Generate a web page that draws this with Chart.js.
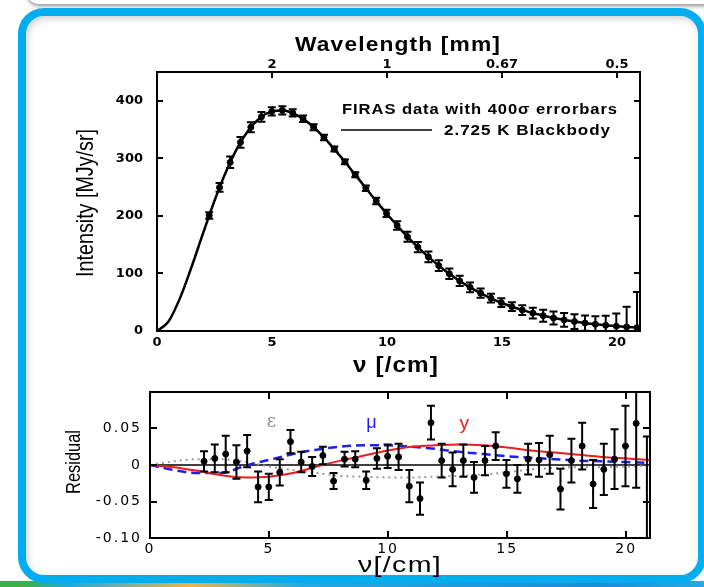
<!DOCTYPE html>
<html lang="en">
<head>
<meta charset="UTF-8">
<title>FIRAS CMB spectrum</title>
<script src="https://cdn.jsdelivr.net/npm/chart.js"></script>
<style>
  html, body { margin: 0; padding: 0; background: #fff; }
  body { width: 704px; height: 587px; position: relative; overflow: hidden; }
  .topshade { position: absolute; left: 28px; top: -30px; width: 740px; height: 34px; background: #fff;
              border-radius: 10px; box-shadow: 0 2px 4px rgba(0,0,0,0.45); }
  .strip { position: absolute; left: 0; top: 581px; width: 704px; height: 6px;
           background: linear-gradient(to right, #3dae4a 0, #3dae4a 26px, #22a7e0 70px, #f3b33d 190px, #28a8e0 300px, #1d8bd6 600px, #29a9e0 704px); }
  .frame { position: absolute; left: 18px; top: 8px; width: 688px; height: 575px; box-sizing: border-box;
           border: 8px solid #00aeef; border-radius: 26px; background: #fff;
           box-shadow: inset 2px 3px 6px rgba(0,0,0,0.18); }
  canvas { position: absolute; left: 0; }
  #topChart { top: 0; }
  #resChart { top: 380px; }
</style>
</head>
<body>
<div class="topshade"></div>
<div class="strip"></div>
<div class="frame"></div>
<canvas id="topChart" width="704" height="380"></canvas>
<canvas id="resChart" width="704" height="207"></canvas>

<script>
// FIRAS monopole spectrum
const firasNu = [2.27, 2.72, 3.18, 3.63, 4.08, 4.54, 4.99, 5.45, 5.90, 6.35, 6.81, 7.26, 7.71, 8.17,
  8.62, 9.08, 9.53, 9.98, 10.44, 10.89, 11.34, 11.80, 12.25, 12.71, 13.16, 13.61, 14.07, 14.52,
  14.97, 15.43, 15.88, 16.34, 16.79, 17.24, 17.70, 18.15, 18.61, 19.06, 19.51, 19.97, 20.42, 20.87];
const firasIntensity = [200.7, 249.5, 293.0, 327.8, 354.1, 372.1, 381.5, 383.5, 378.9, 368.8, 354.1,
  336.3, 316.1, 293.9, 271.4, 248.2, 225.9, 204.3, 183.3, 163.8, 145.8, 128.8, 113.6, 99.5, 87.0,
  75.9, 65.8, 57.0, 49.2, 42.3, 36.4, 31.1, 26.6, 22.6, 19.3, 16.4, 13.8, 11.7, 9.9, 8.4, 7.1, 5.8];
// residuals and 1 sigma uncertainties (MJy/sr)
const firasResidual = [0.005, 0.009, 0.015, 0.004, 0.019, -0.030, -0.030, -0.010, 0.032, 0.004, -0.002,
  0.013, -0.022, 0.008, 0.008, -0.021, 0.009, 0.012, 0.011, -0.029, -0.046, 0.058, 0.006, -0.006,
  0.006, -0.017, 0.006, 0.026, -0.012, -0.019, 0.008, 0.007, 0.014, -0.033, 0.006, 0.026, -0.026,
  -0.006, 0.008, 0.026, 0.057, -0.116];
const firasSigma = [0.014, 0.019, 0.025, 0.023, 0.022, 0.021, 0.018, 0.018, 0.016, 0.014, 0.013,
  0.012, 0.011, 0.010, 0.011, 0.012, 0.014, 0.016, 0.018, 0.022, 0.022, 0.023, 0.023, 0.023, 0.022,
  0.021, 0.020, 0.019, 0.019, 0.019, 0.021, 0.023, 0.026, 0.028, 0.030, 0.032, 0.033, 0.035, 0.041,
  0.055, 0.088, 0.155];
const errorScale = 400;

// 2.725 K blackbody curve
const bbNu = [0, 0.5, 1, 1.5, 2, 2.5, 3, 3.5, 4, 4.5, 5, 5.5, 6, 6.5, 7, 7.5, 8, 8.5, 9, 9.5, 10,
  10.5, 11, 11.5, 12, 12.5, 13, 13.5, 14, 14.5, 15, 15.5, 16, 16.5, 17, 17.5, 18, 18.5, 19, 19.5, 20, 20.5, 21];
const bbIntensity = [0, 16.4, 57.1, 111.0, 169.5, 226.3, 276.9, 318.6, 350.0, 370.9, 381.6, 383.3,
  377.0, 364.4, 346.8, 325.7, 302.2, 277.5, 252.3, 227.4, 203.3, 180.6, 159.3, 139.7, 121.8, 105.7,
  91.3, 78.5, 67.2, 57.3, 48.7, 41.3, 34.9, 29.4, 24.7, 20.7, 17.3, 14.4, 12.0, 9.95, 8.24, 6.81, 5.63];

// spectral distortion shapes in the residual panel
const distNu = [0, 1, 2, 3, 4, 5, 6, 7, 8, 9, 10, 11, 12, 13, 14, 15, 16, 17, 18, 19, 20, 21];
const epsShape = [0, 0.005, 0.008, 0.008, 0.004, -0.002, -0.007, -0.011, -0.015, -0.016, -0.017,
  -0.017, -0.016, -0.015, -0.013, -0.010, -0.006, -0.004, -0.003, -0.003, -0.002, -0.001];
const muShape = [0, -0.007, -0.011, -0.011, -0.001, 0.007, 0.015, 0.021, 0.025, 0.027, 0.027,
  0.025, 0.022, 0.018, 0.015, 0.012, 0.010, 0.008, 0.006, 0.005, 0.004, 0.003];
const yShape = [0, -0.003, -0.008, -0.014, -0.017, -0.016, -0.011, -0.002, 0.006, 0.013, 0.020,
  0.025, 0.027, 0.028, 0.027, 0.024, 0.020, 0.017, 0.014, 0.011, 0.009, 0.007];

// ticks
const nuTicks = [0, 5, 10, 15, 20];
const wlTickNu = [5, 10, 15, 20];
const wlTickLabels = ['2', '1', '0.67', '0.5'];
const intensityTicks = [0, 100, 200, 300, 400];
const residualTicks = [-0.1, -0.05, 0, 0.05];

const FONT = "'Liberation Sans', Arial, Helvetica, sans-serif";
const WIDE = "'DejaVu Sans', Verdana, sans-serif";

const pts = (xs, ys) => xs.map((x, i) => ({x: x, y: ys[i]}));
const setTicks = vals => s => { s.ticks = vals.map(v => ({value: v})); };
// fixed box size, no extra padding from label overflow
const fixH = h => s => { s.height = h; s.paddingLeft = 0; s.paddingRight = 0; s.paddingTop = 0; s.paddingBottom = 0; };
const fixW = w => s => { s.width = w; s.paddingLeft = 0; s.paddingRight = 0; s.paddingTop = 0; s.paddingBottom = 0; };

// letter spacing for the tick labels
const spacingPlugin = {
  id: 'spacing',
  beforeDraw(chart, args, opts) {
    if ('letterSpacing' in chart.ctx) chart.ctx.letterSpacing = (opts.value || 0) + 'px';
  }
};

// frame around the plot area with inward tick marks
const framePlugin = {
  id: 'frame',
  afterDraw(chart, args, opts) {
    const ctx = chart.ctx;
    const a = chart.chartArea;
    const len = opts.tickLength || 7;
    ctx.save();
    ctx.strokeStyle = '#000';
    ctx.lineWidth = opts.lineWidth || 2;
    ctx.beginPath();
    (opts.top || []).forEach(v => {
      const x = Math.round(chart.scales[opts.topScale || 'x'].getPixelForValue(v));
      ctx.moveTo(x, a.top); ctx.lineTo(x, a.top + len);
    });
    (opts.bottom || []).forEach(v => {
      const x = Math.round(chart.scales.x.getPixelForValue(v));
      ctx.moveTo(x, a.bottom); ctx.lineTo(x, a.bottom - len);
    });
    (opts.left || []).forEach(v => {
      const y = Math.round(chart.scales.y.getPixelForValue(v));
      ctx.moveTo(a.left, y); ctx.lineTo(a.left + len, y);
    });
    (opts.right || []).forEach(v => {
      const y = Math.round(chart.scales.y.getPixelForValue(v));
      ctx.moveTo(a.right, y); ctx.lineTo(a.right - len, y);
    });
    ctx.stroke();
    ctx.strokeRect(a.left, a.top, a.right - a.left, a.bottom - a.top);
    ctx.restore();
  }
};

// vertical error bars with caps
const errorBarPlugin = {
  id: 'errbars',
  afterDatasetsDraw(chart) {
    const ctx = chart.ctx;
    const a = chart.chartArea;
    const xs = chart.scales.x, ys = chart.scales.y;
    ctx.save();
    ctx.beginPath();
    ctx.rect(a.left, a.top, a.right - a.left, a.bottom - a.top);
    ctx.clip();
    ctx.strokeStyle = '#000';
    ctx.lineWidth = 2;
    chart.data.datasets.forEach(ds => {
      if (!ds.errors) return;
      ds.data.forEach((p, i) => {
        const e = ds.errors[i];
        const x = xs.getPixelForValue(p.x);
        const y1 = ys.getPixelForValue(p.y + e);
        const y2 = ys.getPixelForValue(p.y - e);
        ctx.beginPath();
        ctx.moveTo(x, y1); ctx.lineTo(x, y2);
        ctx.moveTo(x - 4, y1); ctx.lineTo(x + 4, y1);
        ctx.moveTo(x - 4, y2); ctx.lineTo(x + 4, y2);
        ctx.stroke();
      });
    });
    ctx.restore();
  }
};

// free text: axis titles, legend, curve names
// span -> stretch (or squeeze) the text along its direction to that many pixels
function notesPlugin(items, lines) {
  return {
    id: 'notes',
    afterDraw(chart) {
      const ctx = chart.ctx;
      items.forEach(t => {
        ctx.save();
        let x = t.x, y = t.y;
        if (t.data) {
          x = chart.scales.x.getPixelForValue(t.x);
          y = chart.scales.y.getPixelForValue(t.y);
        }
        ctx.font = t.font;
        ctx.fillStyle = t.color || '#000';
        ctx.textBaseline = 'middle';
        if ('letterSpacing' in ctx) ctx.letterSpacing = (t.spacing || 0) + 'px';
        const w = ctx.measureText(t.text).width;
        ctx.translate(x, y);
        if (t.vertical) ctx.rotate(-Math.PI / 2);
        if (t.span) ctx.scale(t.span / w, 1);
        ctx.textAlign = t.align || 'center';
        ctx.fillText(t.text, 0, 0);
        ctx.restore();
      });
      (lines || []).forEach(l => {
        ctx.save();
        ctx.strokeStyle = '#000';
        ctx.lineWidth = l.width || 1.5;
        ctx.beginPath();
        ctx.moveTo(l.x1, l.y); ctx.lineTo(l.x2, l.y);
        ctx.stroke();
        ctx.restore();
      });
    }
  };
}

const noGrid = {display: false, drawTicks: false};

// ---------- upper panel: spectrum ----------
const topNotes = [
  {text: 'Wavelength [mm]', x: 398, y: 45, span: 206, spacing: 1, font: 'bold 20px ' + FONT},
  {text: '\u03bd [/cm]', x: 396, y: 366, span: 86, spacing: 1, font: 'bold 22px ' + FONT},
  {text: 'Intensity [MJy/sr]', x: 86, y: 203, vertical: true, span: 148, font: '24px ' + FONT},
  {text: 'FIRAS data with 400\u03c3 errorbars', x: 342, y: 110, align: 'left', span: 276, spacing: 0.8, font: 'bold 14px ' + FONT},
  {text: '2.725 K Blackbody', x: 444, y: 131, align: 'left', span: 167, spacing: 0.8, font: 'bold 14px ' + FONT}
];
const topLines = [{x1: 341, x2: 432, y: 130, width: 1.5}];

new Chart(document.getElementById('topChart'), {
  type: 'scatter',
  data: {
    datasets: [
      {
        label: '2.725 K Blackbody',
        data: pts(bbNu, bbIntensity),
        showLine: true,
        borderColor: '#000',
        borderWidth: 2.5,
        pointRadius: 0,
        cubicInterpolationMode: 'monotone',
        order: 2
      },
      {
        label: 'FIRAS data',
        data: pts(firasNu, firasIntensity),
        errors: firasSigma.map(s => s * errorScale),
        backgroundColor: '#000',
        borderColor: '#000',
        pointRadius: 3,
        order: 1
      }
    ]
  },
  options: {
    responsive: false,
    animation: false,
    events: [],
    layout: {padding: {left: 70, right: 64, top: 20, bottom: 0}},
    plugins: {
      legend: {display: false},
      tooltip: {enabled: false},
      spacing: {value: 0},
      frame: {top: wlTickNu, topScale: 'x2', left: intensityTicks, right: intensityTicks, tickLength: 6}
    },
    scales: {
      x: {
        type: 'linear', position: 'bottom', min: 0, max: 21,
        afterBuildTicks: setTicks(nuTicks),
        afterFit: fixH(49),
        grid: noGrid, border: {display: false},
        ticks: {color: '#000', padding: 4, maxRotation: 0, font: {family: WIDE, size: 13, weight: 'bold'}}
      },
      x2: {
        type: 'linear', position: 'top', min: 0, max: 21,
        afterBuildTicks: setTicks(wlTickNu),
        afterFit: fixH(52),
        grid: noGrid, border: {display: false},
        ticks: {color: '#000', padding: 0, maxRotation: 0, font: {family: WIDE, size: 13, weight: 'bold'},
                callback: (v, i) => wlTickLabels[i]}
      },
      y: {
        type: 'linear', min: 0, max: 450,
        afterBuildTicks: setTicks(intensityTicks),
        afterFit: fixW(87),
        grid: noGrid, border: {display: false},
        ticks: {color: '#000', padding: 14, font: {family: WIDE, size: 13, weight: 'bold'}}
      }
    }
  },
  plugins: [spacingPlugin, framePlugin, errorBarPlugin, notesPlugin(topNotes, topLines)]
});

// ---------- lower panel: residuals ----------
const resNotes = [
  {text: '\u03bd[/cm]', x: 400, y: 186, span: 84, spacing: 1, font: '22px ' + FONT},
  {text: 'Residual', x: 74, y: 82, vertical: true, span: 64, font: '21px ' + FONT},
  {text: '\u03b5', x: 5.1, y: 0.058, data: true, color: '#8a8a8a', font: '18px ' + "'DejaVu Serif', serif"},
  {text: '\u03bc', x: 9.3, y: 0.057, data: true, color: '#1f1fe8', font: '18px ' + FONT},
  {text: 'y', x: 13.2, y: 0.056, data: true, color: '#ee1c1c', font: '19px ' + FONT}
];

new Chart(document.getElementById('resChart'), {
  type: 'scatter',
  data: {
    datasets: [
      {
        label: 'zero', data: pts([0, 21], [0, 0]), showLine: true,
        borderColor: '#000', borderWidth: 1.5, pointRadius: 0, order: 5
      },
      {
        label: '\u03b5', data: pts(distNu, epsShape), showLine: true,
        borderColor: '#999', borderWidth: 2, borderDash: [2, 4], pointRadius: 0,
        cubicInterpolationMode: 'monotone', order: 4
      },
      {
        label: '\u03bc', data: pts(distNu, muShape), showLine: true,
        borderColor: '#1f1fe8', borderWidth: 2.5, borderDash: [9, 5], pointRadius: 0,
        cubicInterpolationMode: 'monotone', order: 3
      },
      {
        label: 'y', data: pts(distNu, yShape), showLine: true,
        borderColor: '#ee1c1c', borderWidth: 2, pointRadius: 0,
        cubicInterpolationMode: 'monotone', order: 2
      },
      {
        label: 'Residual', data: pts(firasNu, firasResidual),
        errors: firasSigma,
        backgroundColor: '#000', borderColor: '#000', pointRadius: 3, order: 1
      }
    ]
  },
  options: {
    responsive: false,
    animation: false,
    events: [],
    layout: {padding: {left: 60, right: 54, top: 12, bottom: 0}},
    plugins: {
      legend: {display: false},
      tooltip: {enabled: false},
      spacing: {value: 2},
      frame: {top: [5, 10, 15, 20], bottom: [5, 10, 15, 20], left: [-0.05, 0, 0.05], right: [-0.05, 0.05], tickLength: 7}
    },
    scales: {
      x: {
        type: 'linear', position: 'bottom', min: 0, max: 21,
        afterBuildTicks: setTicks(nuTicks),
        afterFit: fixH(49),
        grid: noGrid, border: {display: false},
        ticks: {color: '#000', padding: 3, maxRotation: 0, font: {family: WIDE, size: 14}}
      },
      y: {
        type: 'linear', min: -0.1, max: 0.1,
        afterBuildTicks: setTicks(residualTicks),
        afterFit: fixW(90),
        grid: noGrid, border: {display: false},
        ticks: {color: '#000', padding: 8, font: {family: WIDE, size: 14}}
      }
    }
  },
  plugins: [spacingPlugin, framePlugin, errorBarPlugin, notesPlugin(resNotes)]
});
</script>
</body>
</html>
